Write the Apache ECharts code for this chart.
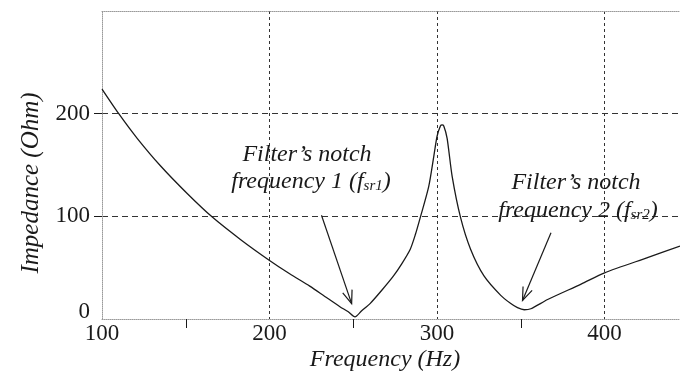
<!DOCTYPE html>
<html>
<head>
    <meta charset="utf-8">
    <title>Impedance vs frequency</title>
    <script src="https://cdn.jsdelivr.net/npm/echarts@6/dist/echarts.min.js"></script>
    <style type="text/css">
        html, body { margin: 0; padding: 0; background: #fff; }
        #main { width: 680px; height: 378px; }
    </style>
</head>
<body>
<div id="main"></div>
<script type="text/javascript">
    // values
    var freq = [100, 110, 121, 135, 151, 166, 183, 200, 212, 224, 233, 242, 247, 251, 255, 260, 267, 274,
                279, 284, 287, 290, 295, 298, 300, 302, 303, 304, 306, 309, 314, 320, 328, 338, 344, 348, 352,
                356, 366, 386, 400, 426, 445];
    var impedance = [224, 200, 176, 149, 122, 99, 77, 57, 44, 32, 22, 12, 7, 2, 8, 15, 28, 42,
                     54, 68, 82, 99, 129, 158, 178, 188, 189, 188, 176, 139, 99, 68, 42, 23, 15, 11, 9,
                     10, 19, 34, 45, 60, 71];
    var xTicks = [100, 200, 300, 400];
    var yTicks = [0, 100, 200];
    var yGrid = [100, 200];
    // arrow tail / tip in data units
    var arrow1 = [[231, 101], [249, 15]];
    var arrow2 = [[368, 84], [351, 18]];

    var serif = "'Liberation Serif', 'Times New Roman', serif";
    var ink = '#1a1a1a';

    var data = [];
    for (var i = 0; i < freq.length; i++) {
        data.push([freq[i], impedance[i]]);
    }

    var chart = echarts.init(document.getElementById('main'));
    var option = {
        animation: false,
        backgroundColor: '#fff',
        grid: { left: 102, right: 0, top: 11, bottom: 59 },
        xAxis: [
            {
                type: 'value',
                min: 100,
                max: 445,
                interval: 100,
                axisLine: { show: true, lineStyle: { color: '#9a9a9a', type: 'dotted', width: 1 } },
                axisTick: { show: false },
                minorTick: { show: true, splitNumber: 2, length: 9, lineStyle: { color: ink, width: 1 } },
                axisLabel: {
                    margin: 3,
                    color: ink,
                    fontFamily: serif,
                    fontSize: 23,
                    customValues: xTicks
                },
                splitLine: {
                    show: true,
                    showMinLine: false,
                    lineStyle: { color: '#333', type: [3, 3], width: 1 }
                }
            },
            {
                type: 'value',
                position: 'top',
                min: 100,
                max: 445,
                axisLine: { show: true, lineStyle: { color: '#9a9a9a', type: 'dotted', width: 1 } },
                axisTick: { show: false },
                axisLabel: { show: false },
                splitLine: { show: false }
            }
        ],
        yAxis: {
            type: 'value',
            min: 0,
            max: 300,
            interval: 100,
            axisLine: { show: true, lineStyle: { color: '#9a9a9a', type: 'dotted', width: 1 } },
            axisTick: { show: true, length: 8, customValues: yGrid, lineStyle: { color: ink, width: 1 } },
            axisLabel: {
                margin: 12,
                color: ink,
                fontFamily: serif,
                fontSize: 23,
                customValues: yTicks,
                formatter: function (v) { return v === 0 ? '{z|0}' : String(v); },
                rich: { z: { fontFamily: serif, fontSize: 23, color: ink, padding: [0, 0, 14, 0] } }
            },
            splitLine: {
                show: true,
                showMinLine: true,
                showMaxLine: true,
                lineStyle: { color: '#333', type: [6, 4], width: 1 }
            }
        },
        series: [
            {
                type: 'line',
                data: data,
                showSymbol: false,
                smooth: 0.25,
                lineStyle: { color: ink, width: 1.3 },
                z: 5
            }
        ]
    };
    chart.setOption(option);

    function arrowShapes(a) {
        var p0 = chart.convertToPixel({ gridIndex: 0 }, a[0]);
        var p1 = chart.convertToPixel({ gridIndex: 0 }, a[1]);
        var ang = Math.atan2(p0[1] - p1[1], p0[0] - p1[0]);
        var len = 14, spread = 0.36;
        var h1 = [p1[0] + len * Math.cos(ang + spread), p1[1] + len * Math.sin(ang + spread)];
        var h2 = [p1[0] + len * Math.cos(ang - spread), p1[1] + len * Math.sin(ang - spread)];
        var st = { stroke: ink, lineWidth: 1.2, fill: null };
        return [
            { type: 'line', shape: { x1: p0[0], y1: p0[1], x2: p1[0], y2: p1[1] }, style: st, z: 10 },
            { type: 'polyline', shape: { points: [h1, p1, h2] }, style: st, z: 10 }
        ];
    }

    var txt = { fontFamily: serif, fontStyle: 'italic', fontSize: 24, fill: ink, align: 'center', verticalAlign: 'middle' };
    var sub = {
        f: { fontFamily: serif, fontStyle: 'italic', fontSize: 24, fill: ink },
        s: { fontFamily: serif, fontStyle: 'italic', fontSize: 15, fill: ink, padding: [9, 0, 0, 0] }
    };
    function label(x, y, text, rich) {
        var style = echarts.util.extend({ text: text }, txt);
        if (rich) style.rich = rich;
        return { type: 'text', x: x, y: y, style: style, z: 12 };
    }

    var graphics = [
        label(307, 155, 'Filter\u2019s notch'),
        label(311, 182, 'frequency 1 ({f|f}{s|sr1})', sub),
        label(576, 183, 'Filter\u2019s notch'),
        label(578, 211, 'frequency 2 ({f|f}{s|sr2})', sub),
        {
            type: 'text', x: 385, y: 360,
            style: { text: 'Frequency (Hz)', fontFamily: serif, fontStyle: 'italic', fontSize: 24, fill: ink, align: 'center', verticalAlign: 'middle' }
        },
        {
            type: 'text', x: 31, y: 183, rotation: Math.PI / 2,
            style: { text: 'Impedance (Ohm)', fontFamily: serif, fontStyle: 'italic', fontSize: 25, fill: ink, align: 'center', verticalAlign: 'middle' }
        }
    ];
    graphics = graphics.concat(arrowShapes(arrow1), arrowShapes(arrow2));
    chart.setOption({ graphic: graphics });
</script>
</body>
</html>
